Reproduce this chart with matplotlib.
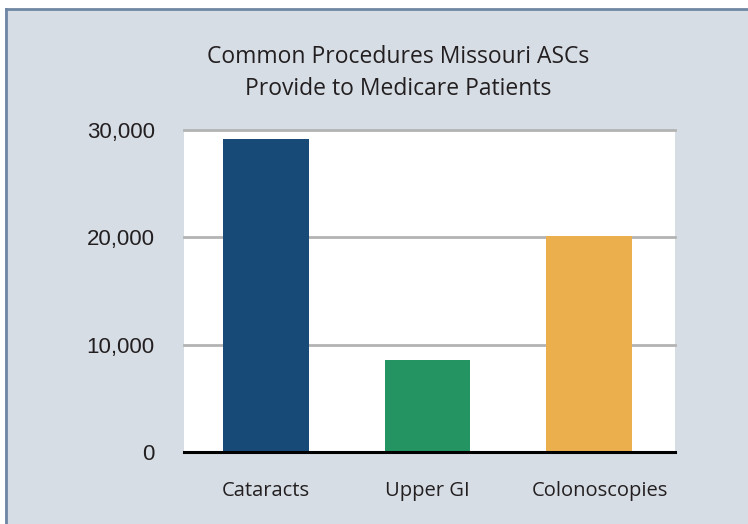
import numpy as np
import matplotlib
matplotlib.use('Agg')
import matplotlib.pyplot as plt
import matplotlib.transforms as mtransforms
from matplotlib.patches import Rectangle
from matplotlib.lines import Line2D

categories = ['Cataracts', 'Upper GI', 'Colonoscopies']
values = [29200, 8600, 20100]
colors = ['#184a77', '#249462', '#ecaf4e']
yticks = [0, 10000, 20000, 30000]
ytick_labels = ['0', '10,000', '20,000', '30,000']

bg = '#d6dde5'
frame = '#6f87a3'

fig = plt.figure(figsize=(7.48, 5.24), dpi=100)
fig.patch.set_facecolor('white')

# panel background, cropped on right/bottom
W, H = 748, 524
fig.patches.append(Rectangle((5 / W, 0), 1, 1 - 9 / H, transform=fig.transFigure,
                             facecolor=bg, edgecolor='none', zorder=-10))
fig.lines.append(Line2D([5.5 / W, 5.5 / W], [0, 1 - 8.5 / H], transform=fig.transFigure,
                        color=frame, lw=2, zorder=-9))
fig.lines.append(Line2D([5.5 / W, 1], [1 - 8.5 / H, 1 - 8.5 / H], transform=fig.transFigure,
                        color=frame, lw=2, zorder=-9))

ax = fig.add_axes([184 / W, 1 - 452 / H, (675 - 184) / W, (452 - 130) / H])
ax.set_facecolor('white')

x = np.arange(len(categories))
ax.bar(x, values, width=0.53, color=colors, zorder=3)

ax.set_xlim(-0.508, 2.533)
ax.set_ylim(0, 30000)
ax.set_yticks(yticks)
ax.set_yticklabels(ytick_labels, fontsize=16, family='Liberation Sans', color='#231f20')
ax.set_xticks(x)
ax.set_xticklabels(categories, fontsize=14.5, family='Open Sans', color='#231f20')
ax.tick_params(axis='both', length=0)
ax.tick_params(axis='y', pad=21)
ax.tick_params(axis='x', pad=21)

# last label sits a bit right of its bar in the original
lab = ax.get_xticklabels()[-1]
lab.set_transform(lab.get_transform() + mtransforms.ScaledTranslation(0.11, 0, fig.dpi_scale_trans))

for v in yticks[1:]:
    ax.axhline(v, color='#b3b3b3', lw=2, zorder=2, clip_on=False)
ax.axhline(0, color='black', lw=2.2, zorder=4, clip_on=False)

for s in ax.spines.values():
    s.set_visible(False)

fig.text(398 / W, 1 - 73 / H, 'Common Procedures Missouri ASCs\nProvide to Medicare Patients',
         ha='center', va='center', fontsize=16.5, family='Open Sans', color='#231f20',
         linespacing=1.39)

plt.savefig('out.png', dpi=100)
